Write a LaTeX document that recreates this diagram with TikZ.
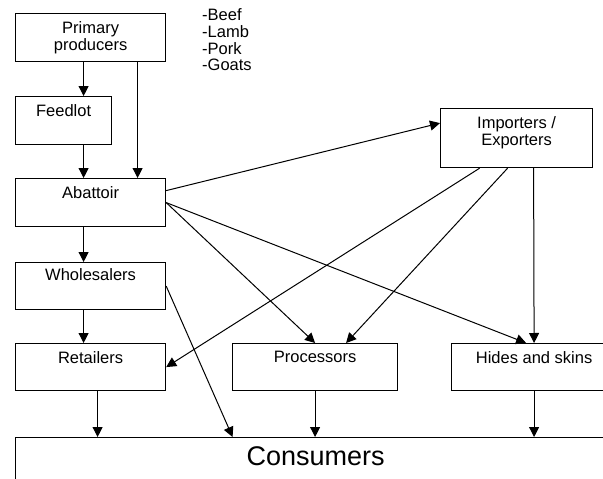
\documentclass[tikz,border=0pt]{standalone}
\usepackage{fontspec}
\setmainfont{Liberation Sans}
\usetikzlibrary{arrows.meta}
\begin{document}
\begin{tikzpicture}[x=1pt,y=-1pt,
  box/.style={draw, line width=1.2pt, anchor=north west, inner sep=0pt},
  txt/.style={font=\fontsize{16.5}{17}\selectfont, align=center, inner sep=0pt, anchor=north, yshift=-8pt},
  arr/.style={-{Triangle[length=10pt,width=10pt]}, line width=1pt}]
\clip (0,0) rectangle (603,479);
\node[box, minimum width=150pt, minimum height=48pt, label={[txt]north:Primary\\producers}] (prim) at (15,13) {};
\node[box, minimum width=96pt, minimum height=48pt, label={[txt]north:Feedlot}] (feed) at (15,96) {};
\node[box, minimum width=150pt, minimum height=48pt, label={[txt]north:Abattoir}] (abat) at (15,178) {};
\node[box, minimum width=150pt, minimum height=47pt, label={[txt,yshift=2pt]north:Wholesalers}] (whol) at (15,262) {};
\node[box, minimum width=150pt, minimum height=47pt, label={[txt]north:Retailers}] (ret) at (15,343) {};
\node[box, minimum width=165pt, minimum height=47pt, label={[txt]north:Processors}] (proc) at (232,343) {};
\node[box, minimum width=165pt, minimum height=47pt, label={[txt]north:Hides and skins}] (hides) at (451,343) {};
\node[box, minimum width=152pt, minimum height=59pt, label={[txt]north:Importers /\\Exporters}] (imp) at (440,108) {};
\node[box, minimum width=600pt, minimum height=70pt, label={[txt,font=\fontsize{27}{28}\selectfont,yshift=-1.5pt]north:Consumers}] (cons) at (15,437) {};
\node[font=\fontsize{16.5}{16.7}\selectfont, align=left, inner sep=0pt, anchor=north west] (meat) at (202,8.5) {-Beef\\-Lamb\\-Pork\\-Goats};
\draw[arr] ([xshift=-7pt]prim.south) -- ([xshift=20pt]feed.north);
\draw[arr] ([xshift=47pt]prim.south) -- ([xshift=47pt]abat.north);
\draw[arr] ([xshift=20pt]feed.south) -- ([xshift=-7pt]abat.north);
\draw[arr] ([xshift=-7pt]abat.south) -- ([xshift=-7pt]whol.north);
\draw[arr] ([xshift=-7pt]whol.south) -- ([xshift=-7pt]ret.north);
\draw[arr] ([xshift=7pt]ret.south) -- ([xshift=-218pt]cons.north);
\draw[arr] (whol.east) -- ([xshift=-83pt]cons.north);
\draw[arr] (proc.south) -- (proc.south |- cons.north);
\draw[arr] (hides.south) -- (hides.south |- cons.north);
\draw[arr] ([yshift=12pt]abat.east) -- ([yshift=15pt]imp.west);
\draw[arr] (abat.east) -- (proc.north);
\draw[arr] (abat.east) -- ([xshift=-8pt]hides.north);
\draw[arr] ([xshift=-37pt]imp.south) -- (ret.east);
\draw[arr] ([xshift=-9pt]imp.south) -- ([xshift=31pt]proc.north);
\draw[arr] ([xshift=17pt]imp.south) -- (hides.north);
\end{tikzpicture}
\end{document}
